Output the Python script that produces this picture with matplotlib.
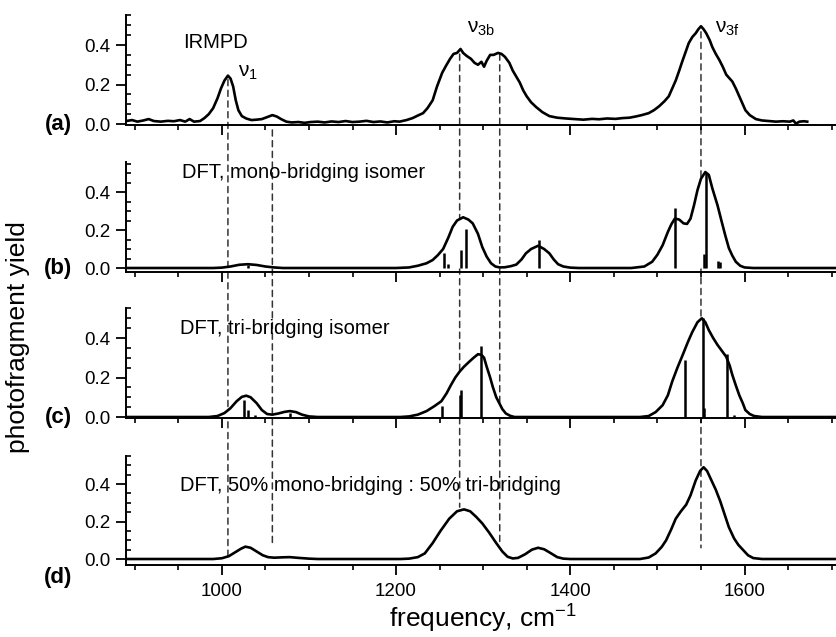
import matplotlib
matplotlib.use("Agg")
import matplotlib.pyplot as plt
from matplotlib.patches import ConnectionPatch
from matplotlib.ticker import MultipleLocator

plt.rcParams["font.family"] = ["Liberation Sans", "DejaVu Sans"]
plt.rcParams["mathtext.fontset"] = "custom"
plt.rcParams["mathtext.rm"] = "Liberation Sans"
plt.rcParams["mathtext.it"] = "Liberation Sans"
plt.rcParams["mathtext.default"] = "regular"

# (a) IRMPD experimental spectrum
irmpd_freq = [890, 897, 903, 910, 916, 922, 930, 938, 945, 952, 958, 963, 968, 975, 980, 985,
              990, 995, 999, 1003, 1007, 1010, 1013, 1016, 1019, 1023, 1028, 1034, 1040, 1046,
              1052, 1058, 1063, 1068, 1074, 1080, 1088, 1095, 1102, 1110, 1118, 1126, 1134,
              1142, 1150, 1158, 1166, 1174, 1182, 1190, 1198, 1204, 1212, 1219, 1226, 1231,
              1236, 1242, 1247, 1253, 1258, 1262, 1266, 1270, 1274, 1277, 1281, 1286, 1290,
              1294, 1298, 1301, 1304, 1308, 1312, 1317, 1321, 1325, 1330, 1334, 1338, 1342,
              1346, 1350, 1355, 1361, 1368, 1376, 1385, 1395, 1405, 1415, 1425, 1433, 1442,
              1452, 1460, 1468, 1475, 1482, 1490, 1496, 1502, 1508, 1513, 1517, 1521, 1525,
              1528, 1532, 1536, 1540, 1544, 1547, 1550, 1553, 1556, 1560, 1563, 1567, 1571,
              1575, 1579, 1583, 1586, 1590, 1594, 1598, 1601, 1606, 1613, 1620, 1628, 1636,
              1644, 1652, 1656, 1659, 1663, 1668, 1672]
irmpd_yield = [0.015, 0.02, 0.012, 0.018, 0.025, 0.015, 0.012, 0.016, 0.014, 0.02, 0.012, 0.025,
               0.012, 0.015, 0.03, 0.05, 0.08, 0.13, 0.18, 0.22, 0.245, 0.23, 0.19, 0.12, 0.07,
               0.04, 0.028, 0.02, 0.022, 0.025, 0.035, 0.045, 0.038, 0.025, 0.012, 0.008, 0.01,
               0.006, 0.01, 0.012, 0.008, 0.013, 0.01, 0.015, 0.01, 0.012, 0.016, 0.01, 0.013,
               0.008, 0.014, 0.012, 0.02, 0.03, 0.045, 0.055, 0.08, 0.12, 0.19, 0.26, 0.30, 0.33,
               0.355, 0.36, 0.38, 0.36, 0.345, 0.33, 0.31, 0.30, 0.315, 0.29, 0.32, 0.35, 0.35,
               0.36, 0.355, 0.34, 0.31, 0.27, 0.24, 0.21, 0.17, 0.14, 0.11, 0.085, 0.06, 0.04,
               0.032, 0.028, 0.025, 0.022, 0.026, 0.024, 0.028, 0.026, 0.03, 0.032, 0.038, 0.045,
               0.055, 0.07, 0.09, 0.115, 0.14, 0.18, 0.22, 0.27, 0.31, 0.36, 0.41, 0.44, 0.46,
               0.48, 0.495, 0.48, 0.46, 0.425, 0.39, 0.355, 0.325, 0.29, 0.25, 0.23, 0.215, 0.18,
               0.14, 0.10, 0.07, 0.045, 0.025, 0.018, 0.015, 0.012, 0.014, 0.012, 0.018, 0.002,
               0.012, 0.014, 0.012]

# (b) DFT mono-bridging isomer
mono_freq = [890, 990, 1000, 1010, 1020, 1030, 1040, 1050, 1060, 1070, 1200, 1215, 1225, 1235,
             1242, 1248, 1254, 1260, 1265, 1270, 1277, 1283, 1288, 1294, 1299, 1304, 1309, 1314,
             1319, 1325, 1332, 1338, 1344, 1349, 1355, 1363, 1370, 1376, 1381, 1386, 1392, 1400,
             1410, 1470, 1485, 1494, 1500, 1506, 1512, 1516, 1520, 1525, 1530, 1534, 1538, 1542,
             1546, 1550, 1555, 1559, 1563, 1569, 1574, 1578, 1582, 1586, 1590, 1595, 1600, 1610,
             1705]
mono_yield = [0, 0, 0.002, 0.008, 0.017, 0.02, 0.016, 0.008, 0.003, 0, 0, 0.003, 0.012, 0.025,
              0.042, 0.068, 0.10, 0.16, 0.217, 0.25, 0.267, 0.255, 0.235, 0.18, 0.11, 0.06, 0.025,
              0.008, 0.003, 0.004, 0.01, 0.018, 0.045, 0.077, 0.10, 0.117, 0.10, 0.077, 0.045,
              0.02, 0.008, 0.002, 0, 0, 0.008, 0.033, 0.07, 0.12, 0.19, 0.23, 0.26, 0.255, 0.235,
              0.232, 0.26, 0.33, 0.41, 0.47, 0.505, 0.49, 0.42, 0.33, 0.24, 0.17, 0.105, 0.065,
              0.033, 0.012, 0.003, 0, 0]
mono_stick_freq = [1030, 1255, 1260, 1275, 1280, 1364, 1520, 1554, 1556, 1569, 1572]
mono_stick_int = [0.016, 0.08, 0.02, 0.095, 0.205, 0.147, 0.314, 0.072, 0.50, 0.035, 0.03]

# (c) DFT tri-bridging isomer
tri_freq = [890, 985, 995, 1003, 1010, 1017, 1023, 1028, 1033, 1040, 1046, 1052, 1058, 1065,
            1072, 1078, 1085, 1092, 1100, 1110, 1205, 1215, 1225, 1235, 1244, 1252, 1258, 1263,
            1268, 1273, 1278, 1284, 1289, 1294, 1298, 1301, 1304, 1308, 1311, 1315, 1319, 1322,
            1326, 1331, 1336, 1480, 1490, 1498, 1506, 1512, 1517, 1523, 1529, 1535, 1540, 1546,
            1551, 1555, 1559, 1564, 1569, 1574, 1579, 1583, 1586, 1590, 1594, 1598, 1601, 1606,
            1611, 1620, 1705]
tri_yield = [0, 0, 0.005, 0.02, 0.045, 0.08, 0.102, 0.108, 0.10, 0.07, 0.035, 0.015, 0.012,
             0.018, 0.026, 0.03, 0.025, 0.012, 0.003, 0, 0, 0.003, 0.012, 0.03, 0.055, 0.08, 0.12,
             0.162, 0.20, 0.23, 0.255, 0.28, 0.30, 0.318, 0.315, 0.30, 0.255, 0.20, 0.153, 0.10,
             0.066, 0.04, 0.018, 0.006, 0, 0, 0.005, 0.025, 0.06, 0.11, 0.18, 0.25, 0.314, 0.38,
             0.43, 0.48, 0.50, 0.48, 0.44, 0.40, 0.365, 0.335, 0.305, 0.26, 0.213, 0.16, 0.11,
             0.07, 0.035, 0.015, 0.005, 0, 0]
tri_stick_freq = [1026, 1030, 1038, 1078, 1253, 1273, 1275, 1298, 1532, 1552, 1554, 1580, 1588]
tri_stick_int = [0.086, 0.036, 0.012, 0.02, 0.056, 0.11, 0.137, 0.36, 0.289, 0.50, 0.044, 0.317,
                 0.008]

# (d) DFT 50% mono-bridging : 50% tri-bridging
mix_freq = [890, 990, 1000, 1008, 1015, 1022, 1027, 1033, 1040, 1047, 1053, 1060, 1070, 1078,
            1088, 1100, 1110, 1205, 1215, 1225, 1233, 1242, 1251, 1261, 1270, 1278, 1285, 1292,
            1299, 1307, 1315, 1322, 1328, 1334, 1340, 1348, 1356, 1363, 1370, 1378, 1385, 1392,
            1400, 1480, 1490, 1498, 1505, 1510, 1516, 1521, 1527, 1533, 1538, 1544, 1549, 1553,
            1557, 1562, 1567, 1572, 1577, 1582, 1588, 1593, 1598, 1604, 1610, 1620, 1705]
mix_yield = [0, 0, 0.004, 0.015, 0.035, 0.055, 0.066, 0.06, 0.04, 0.02, 0.01, 0.007, 0.009,
             0.01, 0.006, 0.002, 0, 0, 0.002, 0.01, 0.03, 0.085, 0.15, 0.215, 0.255, 0.265,
             0.255, 0.225, 0.19, 0.14, 0.085, 0.04, 0.012, 0.003, 0.006, 0.025, 0.05, 0.06, 0.052,
             0.03, 0.01, 0.002, 0, 0, 0.008, 0.03, 0.065, 0.10, 0.16, 0.215, 0.255, 0.29, 0.34,
             0.42, 0.47, 0.49, 0.47, 0.42, 0.37, 0.31, 0.24, 0.17, 0.11, 0.075, 0.05, 0.02,
             0.005, 0, 0]

# dashed guide lines: frequency, start value in (a), end value in (d)
guide_freq = [1007, 1058, 1273, 1319, 1550]
guide_top = [0.225, -0.03, 0.354, 0.354, 0.467]
guide_bottom = [0.01, 0.085, 0.277, 0.075, 0.06]

W, H = 836, 637
LEFT = 126 / W
# (top px, bottom px, ylim)
PANELS = [
    (15, 125, (-0.005, 0.552)),
    (162, 272, (-0.021, 0.558)),
    (308, 418, (-0.005, 0.552)),
    (456, 565, (-0.032, 0.55)),
]

fig = plt.figure(figsize=(W / 100, H / 100), dpi=100)
axes = []
for top, bottom, ylim in PANELS:
    ax = fig.add_axes([LEFT, 1 - bottom / H, 1 - LEFT, (bottom - top) / H])
    ax.set_xlim(890, 1705)
    ax.set_ylim(*ylim)
    ax.set_facecolor("none")
    for side in ("top", "right"):
        ax.spines[side].set_visible(False)
    for side in ("left", "bottom"):
        ax.spines[side].set_linewidth(1.4)
    ax.xaxis.set_major_locator(MultipleLocator(200))
    ax.xaxis.set_minor_locator(MultipleLocator(50))
    ax.yaxis.set_minor_locator(MultipleLocator(0.05))
    ax.set_yticks([0.0, 0.2, 0.4])
    ax.set_yticklabels(["0.0", "0.2", "0.4"])
    ax.tick_params(which="major", direction="out", length=7, width=1.3, labelsize=13.5, pad=4)
    ax.tick_params(which="minor", direction="out", length=3.5, width=1.2)
    ax.tick_params(axis="y", which="minor", direction="in", length=3.5)
    ax.tick_params(axis="x", labelbottom=False)
    axes.append(ax)

ax_a, ax_b, ax_c, ax_d = axes
ax_d.tick_params(axis="x", labelbottom=True, pad=6)

line_kw = dict(color="black", lw=1.9, zorder=3)
ax_a.plot(irmpd_freq, irmpd_yield, **line_kw)

for ax, freq, yld, sf, si in [
    (ax_b, mono_freq, mono_yield, mono_stick_freq, mono_stick_int),
    (ax_c, tri_freq, tri_yield, tri_stick_freq, tri_stick_int),
]:
    # white fill hides the dashed guides under the peaks, as in the original
    ax.fill_between(freq, 0, yld, color="white", lw=0, zorder=1)
    ax.plot(freq, yld, **line_kw)
    ax.vlines(sf, 0, si, color="black", lw=1.8, zorder=4)

ax_d.plot(mix_freq, mix_yield, **line_kw)

for x, ya, yd in zip(guide_freq, guide_top, guide_bottom):
    con = ConnectionPatch(xyA=(x, ya), coordsA=ax_a.transData,
                          xyB=(x, yd), coordsB=ax_d.transData,
                          color="#333333", lw=1.1, linestyle=(0, (4, 3)),
                          shrinkA=0, shrinkB=0, zorder=-1)
    fig.add_artist(con)

# text labels
ax_a.text(955, 0.415, "IRMPD", fontsize=14.5, va="center", ha="left")
ax_a.text(1018, 0.238, "ν$_1$", fontsize=15, va="baseline", ha="left")
ax_a.text(1282, 0.46, "ν$_{3b}$", fontsize=15, va="baseline", ha="left")
ax_a.text(1566, 0.46, "ν$_{3f}$", fontsize=15, va="baseline", ha="left")
ax_b.text(954, 0.505, "DFT, mono-bridging isomer", fontsize=14.5, va="center", ha="left")
ax_c.text(952, 0.45, "DFT, tri-bridging isomer", fontsize=14.5, va="center", ha="left")
ax_d.text(952, 0.395, "DFT, 50% mono-bridging : 50% tri-bridging", fontsize=14.5,
          va="center", ha="left")

for ax, lab, yv in [(ax_a, "(a)", 0.0), (ax_b, "(b)", 0.0), (ax_c, "(c)", 0.0),
                    (ax_d, "(d)", -0.10)]:
    ax.annotate(lab, xy=(58 / W, yv), xycoords=("figure fraction", "data"),
                fontsize=16, fontweight="bold", ha="center", va="center")

fig.text(18 / W, 1 - 337 / H, "photofragment yield", rotation=90, fontsize=19,
         ha="center", va="center")
fig.text(483 / W, 1 - 619 / H, "frequency, cm$^{-1}$", fontsize=19, ha="center", va="center")

fig.savefig("out.png", dpi=100)
